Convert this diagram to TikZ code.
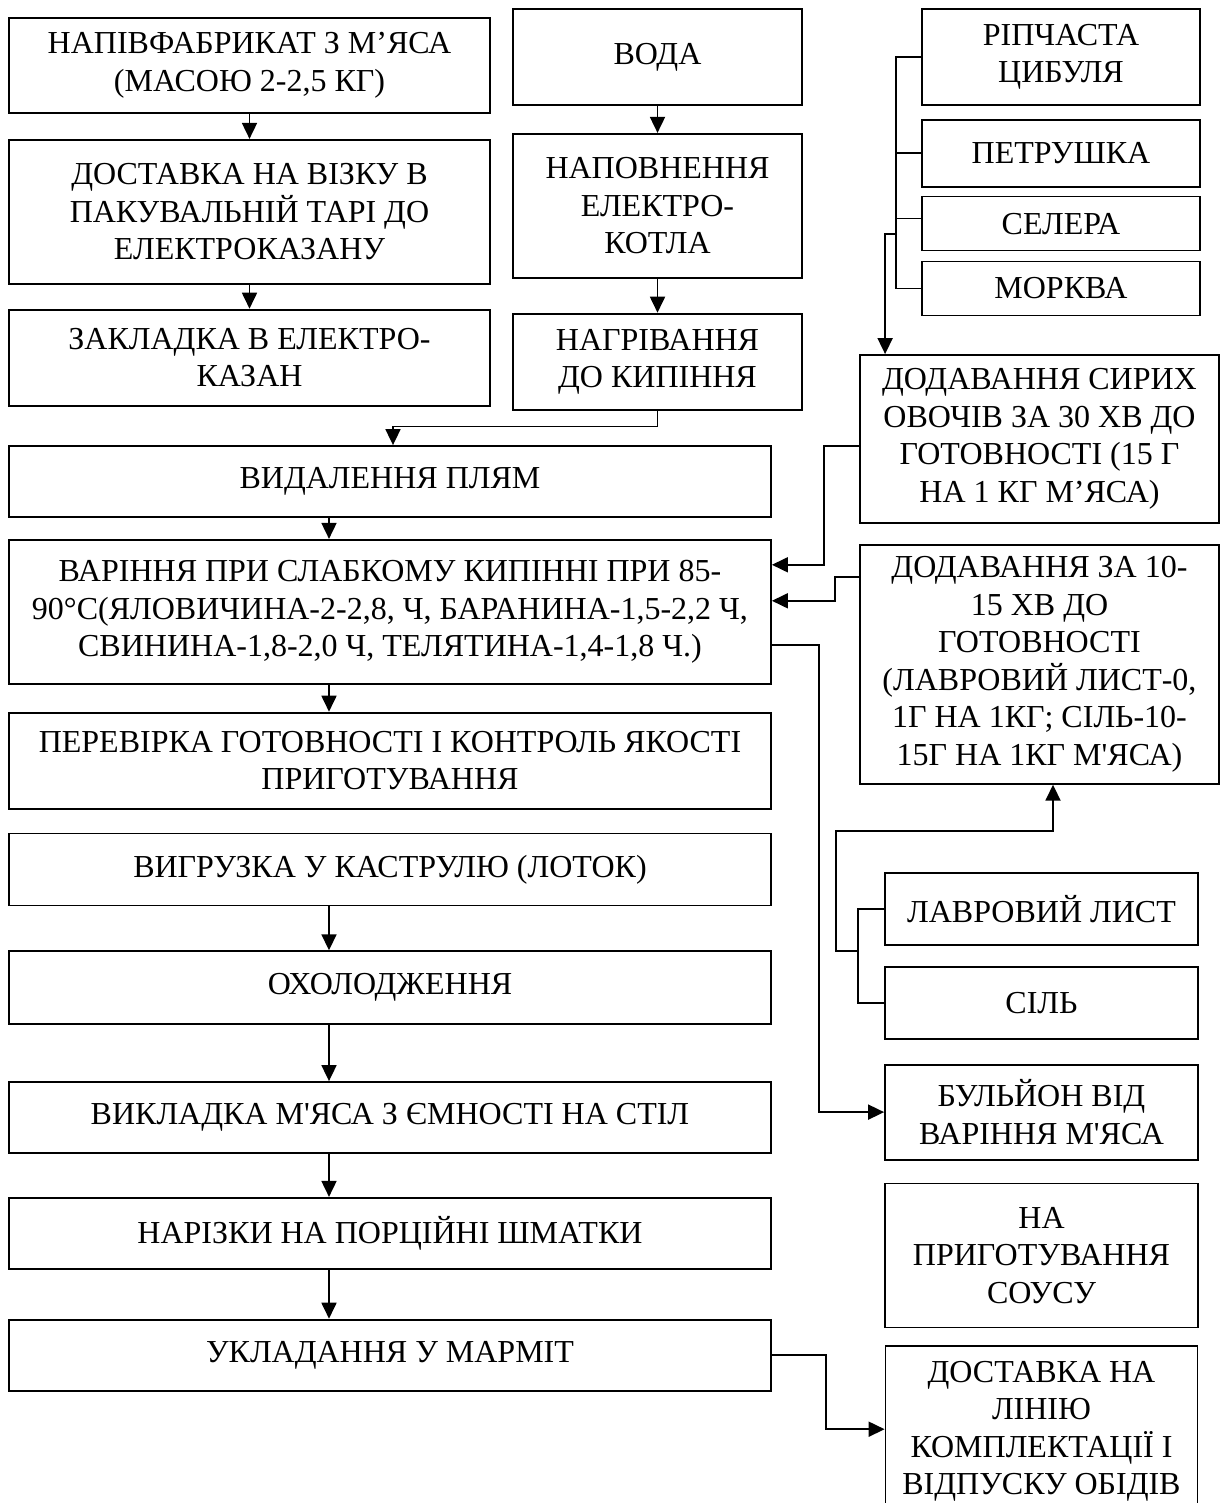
\documentclass[tikz,border=0pt]{standalone}
\usepackage{fontspec}
\setmainfont{Liberation Serif}
\usetikzlibrary{arrows.meta,positioning}

\begin{document}
\begin{tikzpicture}[>={Triangle[length=8pt,width=7.5pt]},line width=0.9pt,
        main box/.style={draw,align=center,inner sep=2pt,font=\fontsize{16}{18.75}\selectfont}]
        \useasboundingbox (0,0) rectangle (610pt,-751.5pt);
        % left top column
        \node[main box,minimum width=240.5pt,minimum height=47.5pt] (1) at (124.75pt,-32.75pt) {НАПІВФАБРИКАТ З М’ЯСА\\(МАСОЮ 2-2,5 КГ)};
        \node[main box,minimum width=240.5pt,minimum height=72pt] (2) [below=12.5pt of 1] {ДОСТАВКА НА ВІЗКУ В\\ПАКУВАЛЬНІЙ ТАРІ ДО\\ЕЛЕКТРОКАЗАНУ};
        \node[main box,minimum width=240.5pt,minimum height=48pt] (3) [below=12pt of 2] {ЗАКЛАДКА В ЕЛЕКТРО-\\КАЗАН};
        % water column
        \node[main box,minimum width=144.5pt,minimum height=48pt] (4) at (328.75pt,-28.5pt) {ВОДА};
        \node[main box,minimum width=144.5pt,minimum height=72pt] (5) [below=13.5pt of 4] {НАПОВНЕННЯ\\ЕЛЕКТРО-\\КОТЛА};
        \node[main box,minimum width=144.5pt,minimum height=48pt] (6) [below=17pt of 5] {НАГРІВАННЯ\\ДО КИПІННЯ};
        % vegetables
        \node[main box,minimum width=139pt,minimum height=48pt] (7) at (530.5pt,-28.5pt) {РІПЧАСТА\\ЦИБУЛЯ};
        \node[main box,minimum width=139pt,minimum height=33.5pt] (8) [below=6.5pt of 7] {ПЕТРУШКА};
        \node[main box,minimum width=139pt,minimum height=27pt] (9) [below=4pt of 8] {СЕЛЕРА};
        \node[main box,minimum width=139pt,minimum height=27pt] (10) [below=4.5pt of 9] {МОРКВА};
        % additions
        \node[main box,minimum width=179.5pt,minimum height=84pt] (11) at (519.75pt,-219.5pt) {ДОДАВАННЯ СИРИХ\\ОВОЧІВ ЗА 30 ХВ ДО\\ГОТОВНОСТІ (15 Г\\НА 1 КГ М’ЯСА)};
        \node[main box,minimum width=179.5pt,minimum height=119.5pt] (12) [below=10pt of 11] {ДОДАВАННЯ ЗА 10-\\15 ХВ ДО\\ГОТОВНОСТІ\\(ЛАВРОВИЙ ЛИСТ-0,\\1Г НА 1КГ; СІЛЬ-10-\\15Г НА 1КГ М\textquotesingle ЯСА)};
        \node[main box,minimum width=156.5pt,minimum height=36pt] (13) at (520.75pt,-454.5pt) {ЛАВРОВИЙ ЛИСТ};
        \node[main box,minimum width=156.5pt,minimum height=36pt] (14) [below=10pt of 13] {СІЛЬ};
        \node[main box,minimum width=156.5pt,minimum height=47.5pt] (15) [below=12pt of 14] {БУЛЬЙОН ВІД\\ВАРІННЯ М\textquotesingle ЯСА};
        \node[main box,minimum width=156.5pt,minimum height=72pt] (16) [below=11pt of 15] {НА\\ПРИГОТУВАННЯ\\СОУСУ};
        \node[main box,minimum width=156pt,minimum height=85pt] (17) [below=8.5pt of 16] {ДОСТАВКА НА\\ЛІНІЮ\\КОМПЛЕКТАЦІЇ І\\ВІДПУСКУ ОБІДІВ};
        % main column
        \node[main box,minimum width=381pt,minimum height=35.5pt] (18) at (195pt,-240.75pt) {ВИДАЛЕННЯ ПЛЯМ};
        \node[main box,minimum width=381pt,minimum height=72pt] (19) [below=10.5pt of 18] {ВАРІННЯ ПРИ СЛАБКОМУ КИПІННІ ПРИ 85-\\90°С(ЯЛОВИЧИНА-2-2,8, Ч, БАРАНИНА-1,5-2,2 Ч,\\СВИНИНА-1,8-2,0 Ч, ТЕЛЯТИНА-1,4-1,8 Ч.)};
        \node[main box,minimum width=381pt,minimum height=48pt] (20) [below=13.5pt of 19] {ПЕРЕВІРКА ГОТОВНОСТІ І КОНТРОЛЬ ЯКОСТІ\\ПРИГОТУВАННЯ};
        \node[main box,minimum width=381pt,minimum height=36pt] (21) [below=11.5pt of 20] {ВИГРУЗКА У КАСТРУЛЮ (ЛОТОК)};
        \node[main box,minimum width=381pt,minimum height=36.5pt] (22) [below=22pt of 21] {ОХОЛОДЖЕННЯ};
        \node[main box,minimum width=381pt,minimum height=35.5pt] (23) [below=28pt of 22] {ВИКЛАДКА М\textquotesingle ЯСА З ЄМНОСТІ НА СТІЛ};
        \node[main box,minimum width=381pt,minimum height=35.5pt] (24) [below=21.5pt of 23] {НАРІЗКИ НА ПОРЦІЙНІ ШМАТКИ};
        \node[main box,minimum width=381pt,minimum height=35.5pt] (25) [below=24.5pt of 24] {УКЛАДАННЯ У МАРМІТ};
        \coordinate (vb) at (448.5pt,-117pt);
        \coordinate (lb) at (429.5pt,-475.5pt);

        \path[->]
        (1) edge (2)
        (2) edge (3)
        (4) edge (5)
        (5) edge (6)
        ([xshift=-30.5pt]18.south) edge ([xshift=-30.5pt]19.north)
        ([xshift=-30.5pt]19.south) edge ([xshift=-30.5pt]20.north)
        ([xshift=-30.5pt]21.south) edge ([xshift=-30.5pt]22.north)
        ([xshift=-30.5pt]22.south) edge ([xshift=-30.5pt]23.north)
        ([xshift=-30.5pt]23.south) edge ([xshift=-30.5pt]24.north)
        ([xshift=-30.5pt]24.south) edge ([xshift=-30.5pt]25.north)
        ;
        \draw[->] (6.south) -- ++(0,-8pt) -| ([xshift=1.5pt]18.north);
        % vegetable bracket
        \draw (7.west) -- ++(-12.5pt,0) |- (10.west);
        \draw (8.west) -- ++(-12.5pt,0);
        \draw ([yshift=2.5pt]9.west) -- ++(-12.5pt,0);
        \draw[->] (vb) -| ([xshift=13pt]11.north west);
        \draw[->] ([yshift=-3.5pt]11.west) -- ++(-17.5pt,0) |- ([yshift=23.5pt]19.east);
        \draw[->] ([yshift=43.75pt]12.west) -- ++(-12pt,0) |- ([yshift=5.5pt]19.east);
        \draw[->] ([yshift=-16.5pt]19.east) -- ++(23.5pt,0) |- (15.west);
        % bay leaf and salt
        \draw (13.west) -- ++(-13pt,0) |- (14.west);
        \draw[->] (lb) -- ++(-11.5pt,0) -- ++(0,60pt) -| ([xshift=6.75pt]12.south);
        \draw[->] (25.east) -- ++(27pt,0) |- ([yshift=1pt]17.west);
\end{tikzpicture}
\end{document}
